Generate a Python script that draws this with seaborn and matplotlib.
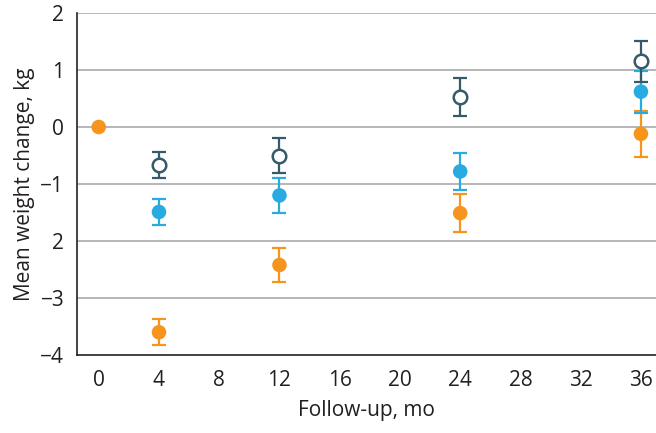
import numpy as np
import pandas as pd
import matplotlib
matplotlib.use("Agg")
import matplotlib.pyplot as plt
import seaborn as sns

# follow-up months
months_orange = [0, 4, 12, 24, 36]
mean_orange = [0.0, -3.60, -2.42, -1.51, -0.12]
err_orange = [0.0, 0.23, 0.30, 0.34, 0.40]

months_blue = [4, 12, 24, 36]
mean_blue = [-1.49, -1.20, -0.78, 0.62]
err_blue = [0.22, 0.30, 0.33, 0.37]

months_dark = [4, 12, 24, 36]
mean_dark = [-0.66, -0.50, 0.53, 1.15]
err_dark = [0.23, 0.30, 0.33, 0.36]

xticks = [0, 4, 8, 12, 16, 20, 24, 28, 32, 36]
yticks = [2, 1, 0, -1, -2, -3, -4]
ytick_labels = ["2", "1", "0", "\u22121", "2", "\u22123", "\u22124"]

c_orange = "#F7941D"
c_blue = "#29ABE2"
c_dark = "#355B68"

sns.set_style("white")
plt.rcParams["font.family"] = ["Open Sans", "DejaVu Sans"]

fig = plt.figure(figsize=(6.56, 4.33), dpi=100)
ax = fig.add_axes([0.117, 0.180, 0.883, 0.790])

for y in yticks[:-1]:
    ax.axhline(y, color="#AAAAAA", lw=1.2, zorder=0)

d_or = pd.DataFrame({"m": months_orange, "v": mean_orange})
d_bl = pd.DataFrame({"m": months_blue, "v": mean_blue})
d_dk = pd.DataFrame({"m": months_dark, "v": mean_dark})

ax.errorbar(months_orange[1:], mean_orange[1:], yerr=err_orange[1:], fmt="none",
            ecolor=c_orange, elinewidth=1.6, capsize=5, capthick=1.6, zorder=2)
ax.errorbar(months_blue, mean_blue, yerr=err_blue, fmt="none",
            ecolor=c_blue, elinewidth=1.6, capsize=5, capthick=1.6, zorder=2)
ax.errorbar(months_dark, mean_dark, yerr=err_dark, fmt="none",
            ecolor=c_dark, elinewidth=1.6, capsize=5, capthick=1.6, zorder=3)

sns.scatterplot(data=d_or, x="m", y="v", ax=ax, color=c_orange, s=110,
                edgecolor="none", zorder=4, legend=False)
sns.scatterplot(data=d_bl, x="m", y="v", ax=ax, color=c_blue, s=110,
                edgecolor="none", zorder=4, legend=False)
sns.scatterplot(data=d_dk, x="m", y="v", ax=ax, color="white", s=95,
                edgecolor=c_dark, linewidth=1.8, zorder=5, legend=False)

ax.set_xlim(-1.46, 37.0)
ax.set_ylim(-4, 2)
ax.set_xticks(xticks)
ax.set_yticks(yticks)
ax.set_yticklabels(ytick_labels)
ax.tick_params(axis="both", direction="out", length=6, width=1.2,
               color="#222222", labelsize=15, labelcolor="#231F20", pad=3)
ax.tick_params(axis="x", pad=5)

for s in ["top", "right"]:
    ax.spines[s].set_visible(False)
for s in ["left", "bottom"]:
    ax.spines[s].set_color("#222222")
    ax.spines[s].set_linewidth(1.2)

ax.set_xlabel("Follow-up, mo", fontsize=15, color="#231F20", labelpad=6)
ax.set_ylabel("Mean weight change, kg", fontsize=15, color="#231F20", labelpad=4)

fig.savefig("out.png", dpi=100)
